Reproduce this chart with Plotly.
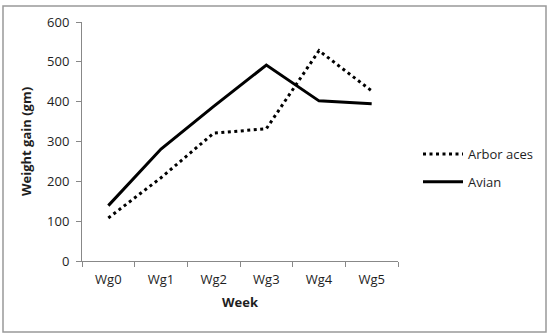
import plotly.graph_objects as go

weeks = ["Wg0", "Wg1", "Wg2", "Wg3", "Wg4", "Wg5"]
arbor_aces = [108, 209, 321, 332, 528, 427]
avian = [139, 281, 388, 492, 402, 395]
y_ticks = [0, 100, 200, 300, 400, 500, 600]

FONT = "'Open Sans', sans-serif"
TXT = "#1e1e1e"

fig = go.Figure()
fig.add_trace(go.Scatter(x=weeks, y=arbor_aces, mode="lines", name="Arbor aces",
                         legendgroup="a",
                         line=dict(color="black", width=3, dash="3px,3.5px")))
fig.add_trace(go.Scatter(x=weeks, y=avian, mode="lines", name="Avian",
                         legendgroup="b",
                         line=dict(color="black", width=3)))

L, R, T, B = 82, 398, 22, 261
W, H = 550, 336

def px_x(p):
    return (p - L) / (R - L)

def px_y(p):
    return (B - p) / (B - T)

fig.update_layout(
    width=W, height=H,
    margin=dict(l=L, r=W - R, t=T, b=H - B),
    paper_bgcolor="white", plot_bgcolor="white",
    font=dict(family=FONT, size=13, color=TXT),
    showlegend=True,
    legend=dict(x=px_x(418), y=px_y(168), xanchor="left", yanchor="middle",
                font=dict(size=13, color=TXT), bgcolor="rgba(0,0,0,0)",
                tracegroupgap=8, itemwidth=40),
    xaxis=dict(range=[-0.5, 5.5], showline=True, linecolor="#888", linewidth=1,
               ticks="outside", tickson="boundaries", ticklen=5, tickcolor="#888",
               ticklabelstandoff=6,
               showgrid=False, zeroline=False,
               title=dict(text="<b>Week</b>", font=dict(size=13, color=TXT), standoff=11)),
    yaxis=dict(range=[0, 600], tickvals=y_ticks, showline=True, linecolor="#888",
               linewidth=1, ticks="outside", ticklen=5, tickcolor="#888",
               ticklabelstandoff=4,
               showgrid=False, zeroline=False,
               title=dict(text="<b>Weight gain (gm)</b>", font=dict(size=13, color=TXT), standoff=12)),
    shapes=[dict(type="rect", xref="paper", yref="paper",
                 x0=px_x(3), x1=px_x(546), y0=px_y(332), y1=px_y(6),
                 line=dict(color="#999", width=1.5), fillcolor="rgba(0,0,0,0)", layer="above")],
)

fig.write_html("out.html", config={"displayModeBar": False},
               post_script="document.body.style.margin='0';")
